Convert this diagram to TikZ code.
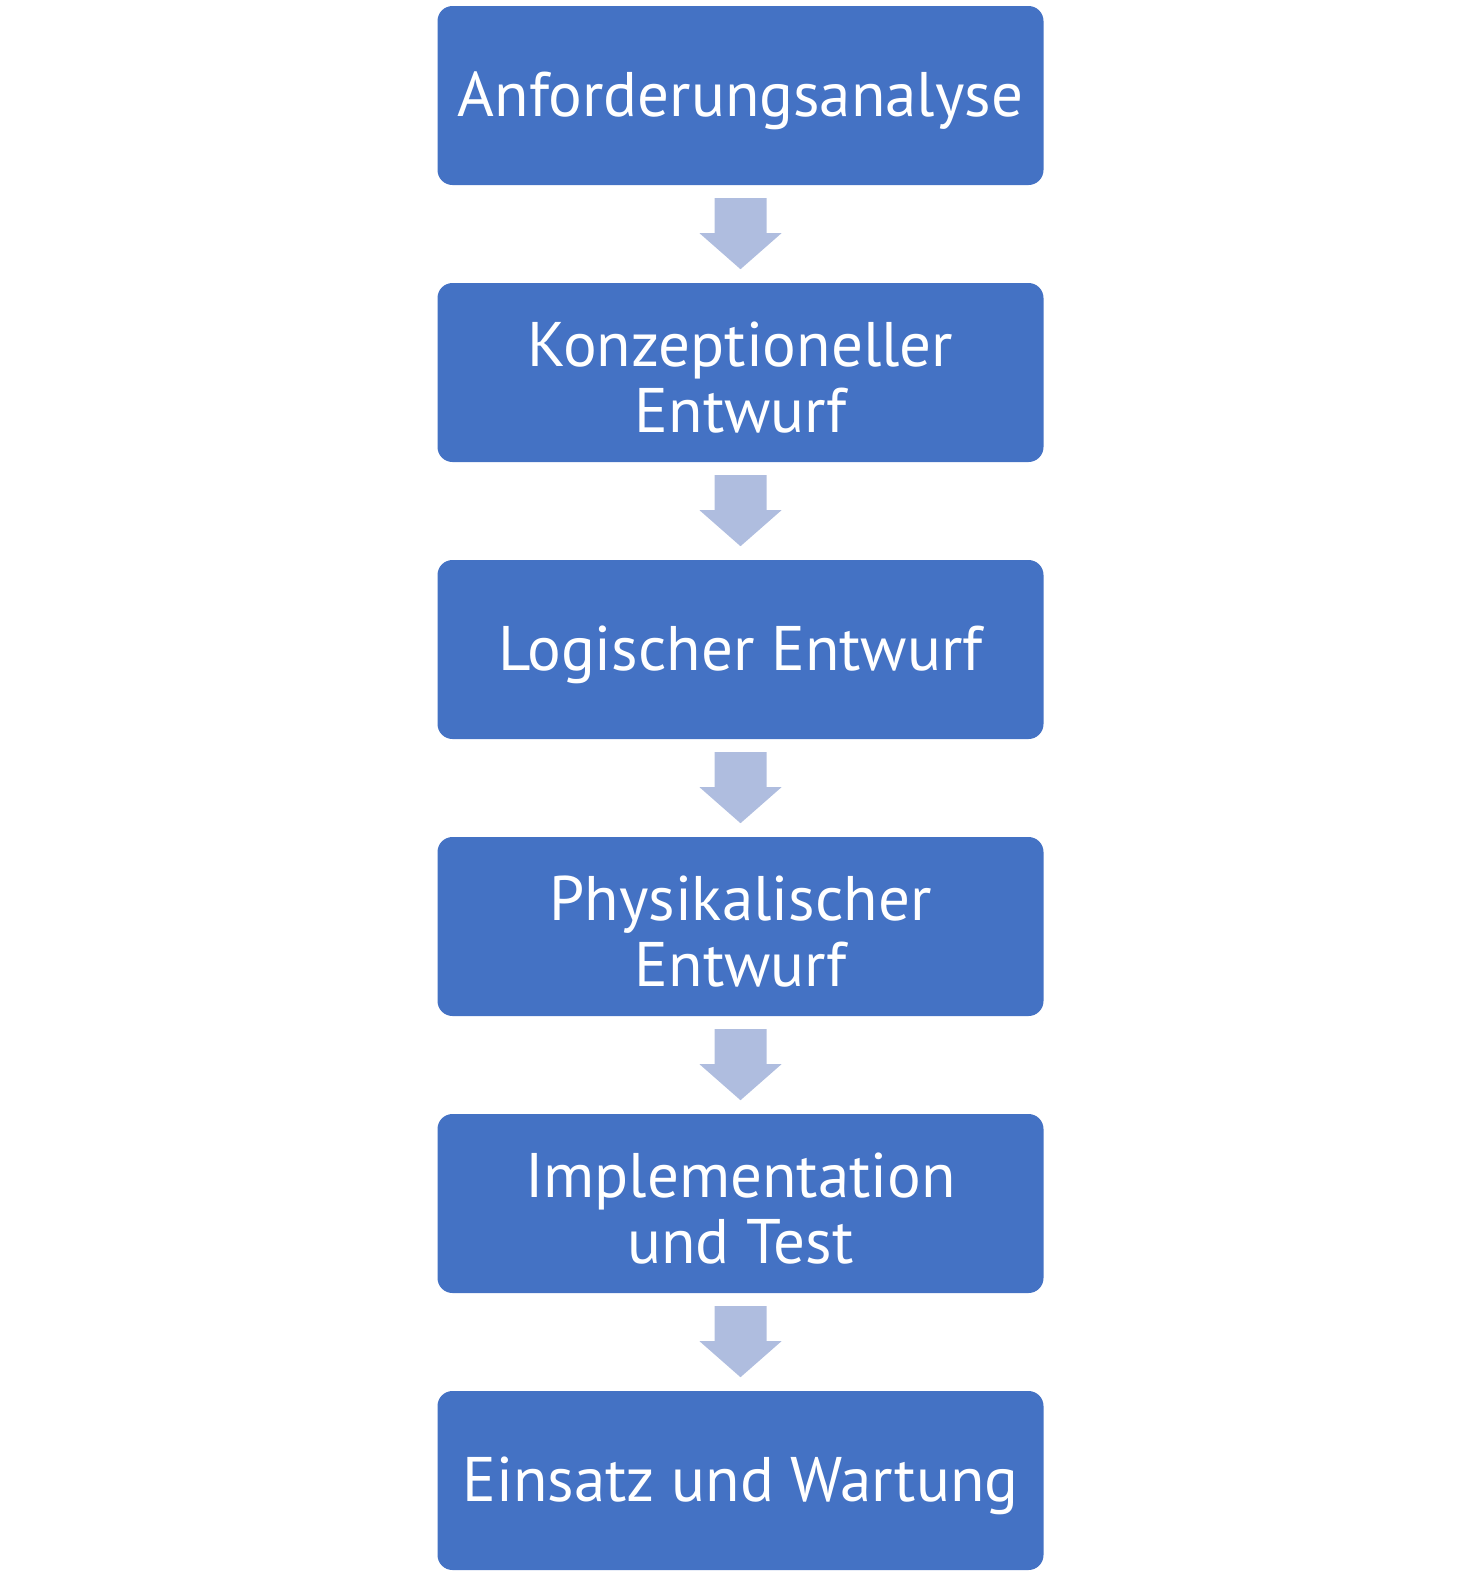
\documentclass[tikz,border=0pt]{standalone}
\usepackage{fontspec}
\setmainfont{PT Sans}
\usetikzlibrary{calc}
\definecolor{boxblue}{RGB}{68,114,196}
\definecolor{arrowblue}{RGB}{175,189,223}
\begin{document}
\begin{tikzpicture}[x=1pt,y=-1pt,
  stepbox/.style={fill=boxblue, draw=none, rounded corners=15pt, minimum width=606pt, minimum height=179pt, inner sep=0pt},
  steptext/.style={text=white, align=center, font=\fontsize{63}{66}\selectfont, inner sep=0pt},
  downarrow/.style={fill=arrowblue, draw=none}]
\useasboundingbox (0,0) rectangle (1483,1575);
\foreach \i/\t in {1/Anforderungsanalyse, 2/{Konzeptioneller\\Entwurf}, 3/Logischer Entwurf, 4/{Physikalischer\\Entwurf}, 5/{Implementation\\und Test}, 6/Einsatz und Wartung}{
  \node[stepbox] (b\i) at (740.5, {95.5+(\i-1)*277}) {};
  \node[steptext] (t\i) at ($(b\i.center)+(0,5)$) {\t};
}
\foreach \i in {1,...,5}{
  \coordinate (a\i) at ($(b\i.south)+(0,13)$);
  \fill[downarrow] ($(a\i)+(-26,0)$) -- ++(52,0) -- ++(0,35) -- ++(15,0) -- ($(a\i)+(0,71)$) -- ($(a\i)+(-41,35)$) -- ++(15,0) -- cycle;
}
\end{tikzpicture}
\end{document}
